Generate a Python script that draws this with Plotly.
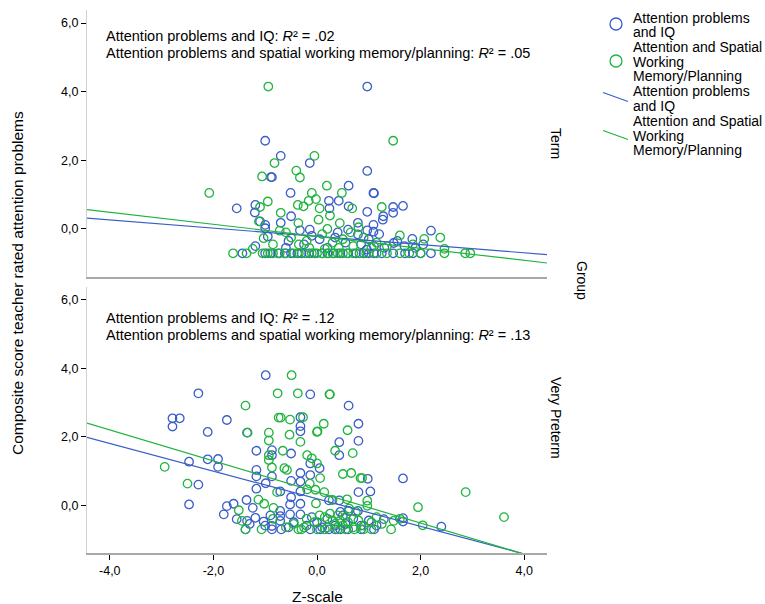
import plotly.graph_objects as go

# ---------------- data ----------------
# Term group, Attention problems vs IQ (z-scale)
term_iq_x = [0.97, -1.00, -0.70, -0.14, -0.89, -0.87, 0.97, 0.61, -0.51, 1.09, 1.10, -1.55, -1.19, -1.20,
             0.23, 0.42, 0.24, 0.61, 0.97, 1.47, 1.66, 1.47, 1.28, 1.27, 1.09, 0.79, -0.70, -0.50, -1.10,
             -1.00, -1.00, -0.33, -0.14, 0.60, 0.97, 1.09, 2.20, 1.84, 1.48, 0.79, -1.19, -0.95, -0.55,
             -0.25, 0.05, 0.35, 0.55, 0.85, 1.00, 1.10, 1.30, 1.55, 1.90, 2.05, 1.69, -0.60, 0.20, -0.10,
             0.40, 0.96, 1.20,
             -1.44, -1.00, -0.90, -0.75, -0.62, -0.50, -0.38, -0.30, -0.15, -0.05, 0.10, 0.20, 0.32, 0.45,
             0.60, 0.75, 0.90, 1.00, 1.10, 1.25, 1.47, 1.70, 1.85, 2.00, 2.20]
term_iq_y = [4.15, 2.57, 2.13, 1.92, 1.51, 1.51, 1.69, 1.26, 1.05, 1.05, 1.04, 0.60, 0.70, 0.48,
             0.82, 0.82, 0.60, 0.66, 0.50, 0.64, 0.67, 0.47, 0.37, 0.27, 0.12, 0.18, 0.18, 0.37, 0.22,
             0.12, 0.02, -0.04, -0.02, -0.02, -0.04, -0.08, -0.05, -0.29, -0.41, -0.16, -0.50, -0.22, -0.35,
             -0.45, -0.30, -0.25, -0.40, -0.45, -0.30, -0.50, -0.55, -0.35, -0.55, -0.45, -0.50, -0.55, -0.55, -0.20,
             -0.10, -0.60, -0.15,
             -0.71, -0.71, -0.71, -0.71, -0.71, -0.71, -0.71, -0.71, -0.71, -0.71, -0.71, -0.71, -0.71, -0.71,
             -0.71, -0.71, -0.71, -0.71, -0.71, -0.71, -0.71, -0.71, -0.71, -0.71, -0.71]

# Term group, Attention vs spatial working memory/planning
term_swm_x = [-0.94, 1.47, -0.05, -0.82, -0.40, -0.33, -1.06, 0.19, -2.08, -0.10, 0.48, -0.02, -0.16, -0.95,
              -0.37, -0.26, 0.05, -1.10, 0.68, 1.25, -0.70, 0.25, 0.03, 0.44, -1.12, -0.36, -0.72, -1.03,
              1.60, 2.07, 2.38, 2.46, -1.24, -0.85, -0.50, -0.20, 0.10, 0.30, 0.50, 0.70, 0.90, 1.15, 1.35,
              1.85, -0.15, 0.15, 0.42, -0.60, 0.65, 1.05, -0.35, 0.20, 0.80,
              -1.62, -1.36, -1.05, -0.95, -0.85, -0.72, -0.60, -0.45, -0.35, -0.22, -0.10, 0.00, 0.10, 0.22,
              0.30, 0.40, 0.50, 0.58, 0.70, 0.82, 0.95, 1.15, 1.35, 1.60, 1.78, 2.00, 2.46, 2.86, 2.96]
term_swm_y = [4.15, 2.57, 2.13, 1.92, 1.70, 1.50, 1.53, 1.26, 1.05, 1.05, 1.05, 0.87, 0.82, 0.80,
              0.70, 0.66, 0.60, 0.64, 0.60, 0.64, 0.47, 0.39, 0.27, 0.17, 0.22, 0.17, -0.05, -0.27,
              -0.19, -0.29, -0.25, -0.58, -0.58, -0.45, -0.25, -0.35, -0.15, -0.40, -0.30, -0.50, -0.25, -0.40, -0.50,
              -0.45, -0.55, -0.58, -0.55, -0.10, -0.10, -0.55, -0.45, 0.00, 0.05,
              -0.71, -0.71, -0.71, -0.71, -0.71, -0.71, -0.71, -0.71, -0.71, -0.71, -0.71, -0.71, -0.71, -0.71,
              -0.71, -0.71, -0.71, -0.71, -0.71, -0.71, -0.71, -0.71, -0.71, -0.71, -0.71, -0.71, -0.71, -0.71, -0.71]

# Very preterm group, Attention problems vs IQ
vpt_iq_x = [-0.99, -2.29, -0.13, 0.61, -2.79, -2.65, -2.79, -1.74, -0.32, -0.32, -0.32, -2.11, -1.35,
            0.80, 0.80, 0.43, 0.43, -1.17, -0.87, -0.87, -0.50, -0.13, 0.05, -2.47, -2.11, -1.91, -1.91,
            -1.17, -1.17, -0.87, -0.32, -0.13, 1.66, 0.98, -0.50, -0.32, -0.99, -2.29, -1.17, -0.32, -0.71,
            0.80, 1.03, -0.50, 0.23, 0.43, -2.47, -1.36, -1.61, -1.74, -1.80, -1.24, -1.55, -1.19, -1.35,
            -1.03, -0.87, -0.71, -0.71, -0.71, -0.52, -0.52, -0.32, -0.32, 0.61, 0.79, 1.29, 1.66, 1.66,
            2.40, 0.00, 0.20, 0.35, 0.50, 0.55, 0.70, 0.85, 1.00, 1.15, -0.10, -0.20, -0.45, -0.55, -1.00,
            -1.30, 0.10, 0.45, -0.90,
            -1.38, -0.87, -0.69, -0.13, 0.06, 0.23, 0.35, 0.45, 0.60, 0.85, 1.10]
vpt_iq_y = [3.80, 3.27, 3.24, 2.91, 2.54, 2.54, 2.30, 2.49, 2.57, 2.31, 2.16, 2.14, 2.12,
            2.38, 1.88, 1.84, 1.46, 1.59, 1.61, 1.46, 1.51, 1.22, 1.08, 1.27, 1.34, 1.35, 1.12,
            1.03, 0.84, 0.84, 0.94, 0.88, 0.78, 0.77, 0.71, 0.69, 0.64, 0.60, 0.48, 0.40, 0.40,
            0.38, 0.40, 0.23, 0.14, 0.14, 0.02, 0.15, 0.04, -0.03, -0.27, -0.08, -0.41, -0.37, -0.46,
            -0.48, -0.61, -0.17, -0.32, -0.46, 0.02, -0.27, 0.04, -0.27, -0.17, -0.17, -0.41, -0.38, -0.48,
            -0.63, -0.50, -0.40, -0.60, -0.30, -0.55, -0.40, -0.60, -0.45, -0.60, -0.35, -0.60, -0.50, -0.65, -0.60,
            -0.55, -0.65, -0.20, -0.30,
            -0.71, -0.71, -0.71, -0.71, -0.71, -0.71, -0.71, -0.71, -0.71, -0.71, -0.71]

# Very preterm group, Attention vs spatial working memory/planning
vpt_swm_x = [-2.94, -2.50, -1.38, -1.34, -0.49, -0.76, -0.37, 0.24, 0.25, -0.74, -0.70, -0.52, -0.27,
             0.13, 0.59, 0.00, 0.01, -0.93, -0.53, -0.93, -0.32, -0.66, -0.93, -0.93, 0.35, 0.69, -0.19,
             -0.10, 0.00, -0.87, -0.63, -0.58, 0.50, 0.66, 0.84, 0.87, 0.06, -0.14, -0.19, -0.03, 0.14,
             -0.77, 0.58, 0.97, 0.97, 2.87, 1.95, 3.61, 2.04, -1.13, -1.02, -1.51, -1.45, -0.84, 1.48,
             0.15, 0.25, 0.30, 0.35, 0.40, 0.45, 0.50, 0.55, 0.60, 0.70, 0.80, 0.90, 1.05, 1.15, 1.25,
             -0.05, -0.20, -0.45, -0.60, -0.85, 0.20, 0.05, 1.60, -0.25, 0.62, 0.75, -0.02, 0.30,
             -1.38, -1.07, -0.36, -0.30, 0.00, 0.15, 0.40, 0.55, 0.72, 0.90, 1.05, 1.43]
vpt_swm_y = [1.12, 0.63, 2.91, 2.12, 3.80, 3.27, 3.27, 3.24, 3.24, 2.56, 2.56, 2.50, 2.57,
             2.38, 2.19, 2.14, 2.16, 2.12, 2.06, 1.89, 1.85, 1.59, 1.46, 1.32, 1.59, 1.52, 1.46,
             1.37, 1.22, 1.10, 1.08, 1.03, 0.91, 0.94, 0.79, 0.79, 0.79, 0.63, 0.46, 0.45, 0.38,
             0.38, 0.17, 0.13, -0.02, 0.38, -0.06, -0.35, -0.59, 0.16, 0.04, -0.15, -0.46, -0.08, -0.46,
             -0.35, -0.25, -0.45, -0.55, -0.30, -0.45, -0.60, -0.35, -0.50, -0.65, -0.45, -0.60, -0.50, -0.35, -0.55,
             -0.50, -0.40, -0.55, -0.65, -0.40, -0.65, -0.30, -0.40, -0.65, -0.10, -0.20, 0.05, 0.15,
             -0.71, -0.71, -0.71, -0.71, -0.71, -0.71, -0.71, -0.71, -0.71, -0.71, -0.71, -0.71]

# linear fits (intercept, slope)
fit_term_iq = (-0.215, -0.120)
fit_term_swm = (-0.215, -0.175)
fit_vpt_iq = (0.186, -0.404)
fit_vpt_swm = (0.384, -0.454)

r2_term = (".02", ".05")
r2_vpt = (".12", ".13")

y_ticks = [0, 2, 4, 6]
y_ticktext = ["0,0", "2,0", "4,0", "6,0"]
x_ticks = [-4, -2, 0, 2, 4]
x_ticktext = ["-4,0", "-2,0", "0,0", "2,0", "4,0"]

# ---------------- styling ----------------
BLUE = "#3a5ec8"
GREEN = "#1fb43e"
FONT = "Liberation Sans, Arial, sans-serif"
XR = [-4.44, 4.44]
YR = [-1.40, 6.38]

W, H = 765, 604
L, R, T, B = 87, 218, 10, 51
PW, PH = W - L - R, H - T - B


def px2x(px):
    return (px - L) / PW


def py2y(py):
    return (H - B - py) / PH


fig = go.Figure()

panels = [
    ("x", "y", term_iq_x, term_iq_y, term_swm_x, term_swm_y, fit_term_iq, fit_term_swm),
    ("x2", "y2", vpt_iq_x, vpt_iq_y, vpt_swm_x, vpt_swm_y, fit_vpt_iq, fit_vpt_swm),
]

for xa, ya, ix, iy, sx, sy, fi, fs in panels:
    fig.add_trace(go.Scatter(x=ix, y=iy, mode="markers", xaxis=xa, yaxis=ya, showlegend=False,
                             marker=dict(symbol="circle-open", size=8.5, color=BLUE, line=dict(width=1.3))))
    fig.add_trace(go.Scatter(x=sx, y=sy, mode="markers", xaxis=xa, yaxis=ya, showlegend=False,
                             marker=dict(symbol="circle-open", size=8.5, color=GREEN, line=dict(width=1.3))))
    for (a, b), col in ((fi, BLUE), (fs, GREEN)):
        fig.add_trace(go.Scatter(x=XR, y=[a + b * XR[0], a + b * XR[1]], mode="lines", xaxis=xa, yaxis=ya,
                                 showlegend=False, line=dict(color=col, width=1.2)))

top_dom = [py2y(277), 1.0]
bot_dom = [0.0, py2y(287)]

yax = dict(range=YR, showgrid=False, zeroline=False, showline=True, linecolor="#d0d0d0", linewidth=1,
           ticks="outside", ticklen=5, tickcolor="#000", tickwidth=1, tickvals=y_ticks, ticktext=y_ticktext,
           tickfont=dict(family=FONT, size=12.5, color="#000"), automargin=False)
xax = dict(range=XR, showgrid=False, zeroline=False, showline=True, linecolor="#a8a8a8", linewidth=2,
           tickfont=dict(family=FONT, size=12.5, color="#000"), automargin=False)

fig.update_layout(
    width=W, height=H, margin=dict(l=L, r=R, t=T, b=B, autoexpand=False),
    paper_bgcolor="white", plot_bgcolor="white", showlegend=False,
    font=dict(family=FONT, color="#000"),
    xaxis=dict(xax, anchor="y", domain=[0, 1], showticklabels=False, ticks=""),
    yaxis=dict(yax, anchor="x", domain=top_dom),
    xaxis2=dict(xax, anchor="y2", domain=[0, 1], ticks="outside", ticklen=5, tickcolor="#000",
                tickvals=x_ticks, ticktext=x_ticktext),
    yaxis2=dict(yax, anchor="x2", domain=bot_dom),
)

ann = []
ANN_SIZE = 14.5
ANN_X = -4.12
# R² annotations
for xr, yr, vals, y1, y2 in (("x", "y", r2_term, 5.63, 5.13), ("x2", "y2", r2_vpt, 5.46, 4.97)):
    ann.append(dict(xref=xr, yref=yr, x=ANN_X, y=y1, xanchor="left", yanchor="middle", showarrow=False,
                    text="Attention problems and IQ: <i>R</i>² = " + vals[0], font=dict(size=ANN_SIZE, family=FONT)))
    ann.append(dict(xref=xr, yref=yr, x=ANN_X, y=y2, xanchor="left", yanchor="middle", showarrow=False,
                    text="Attention problems and spatial working memory/planning: <i>R</i>² = " + vals[1],
                    font=dict(size=ANN_SIZE, family=FONT)))

# facet labels
for text, py, px in (("Term", 143, 556), ("Very Preterm", 418, 556), ("Group", 280, 582)):
    ann.append(dict(xref="paper", yref="paper", x=px2x(px), y=py2y(py), text=text, textangle=90,
                    showarrow=False, xanchor="center", yanchor="middle", font=dict(size=14, family=FONT)))
# axis titles
ann.append(dict(xref="paper", yref="paper", x=px2x(18), y=py2y(283),
                text="Composite score teacher rated attention problems", textangle=-90,
                showarrow=False, xanchor="center", yanchor="middle", font=dict(size=15.5, family=FONT)))
ann.append(dict(xref="paper", yref="paper", x=px2x(317), y=py2y(596), text="Z-scale",
                showarrow=False, xanchor="center", yanchor="middle", font=dict(size=15.5, family=FONT)))

# manual legend
shapes = []
legend_rows = [
    ("marker", BLUE, 24, ["Attention problems", "and IQ"], 18),
    ("marker", GREEN, 61, ["Attention and Spatial", "Working", "Memory/Planning"], 47),
    ("line", BLUE, 97, ["Attention problems", "and IQ"], 91),
    ("line", GREEN, 135, ["Attention and Spatial", "Working", "Memory/Planning"], 121),
]
for kind, col, cy, lines, ty in legend_rows:
    if kind == "marker":
        shapes.append(dict(type="circle", xref="paper", yref="paper", xsizemode="pixel", ysizemode="pixel",
                           xanchor=px2x(616), yanchor=py2y(cy), x0=-6, x1=6, y0=-6, y1=6,
                           line=dict(color=col, width=1.3)))
    else:
        shapes.append(dict(type="line", xref="paper", yref="paper", x0=px2x(603), y0=py2y(cy - 4.5),
                           x1=px2x(628), y1=py2y(cy + 4.5), line=dict(color=col, width=1.2)))
    for i, t in enumerate(lines):
        ann.append(dict(xref="paper", yref="paper", x=px2x(631), y=py2y(ty + i * 14.5), text=t,
                        showarrow=False, xanchor="left", yanchor="middle", font=dict(size=14, family=FONT)))

fig.update_layout(annotations=ann, shapes=shapes)
fig.write_html("out.html", config={"displayModeBar": False},
               post_script="document.body.style.margin='0px';document.body.style.padding='0px';")
